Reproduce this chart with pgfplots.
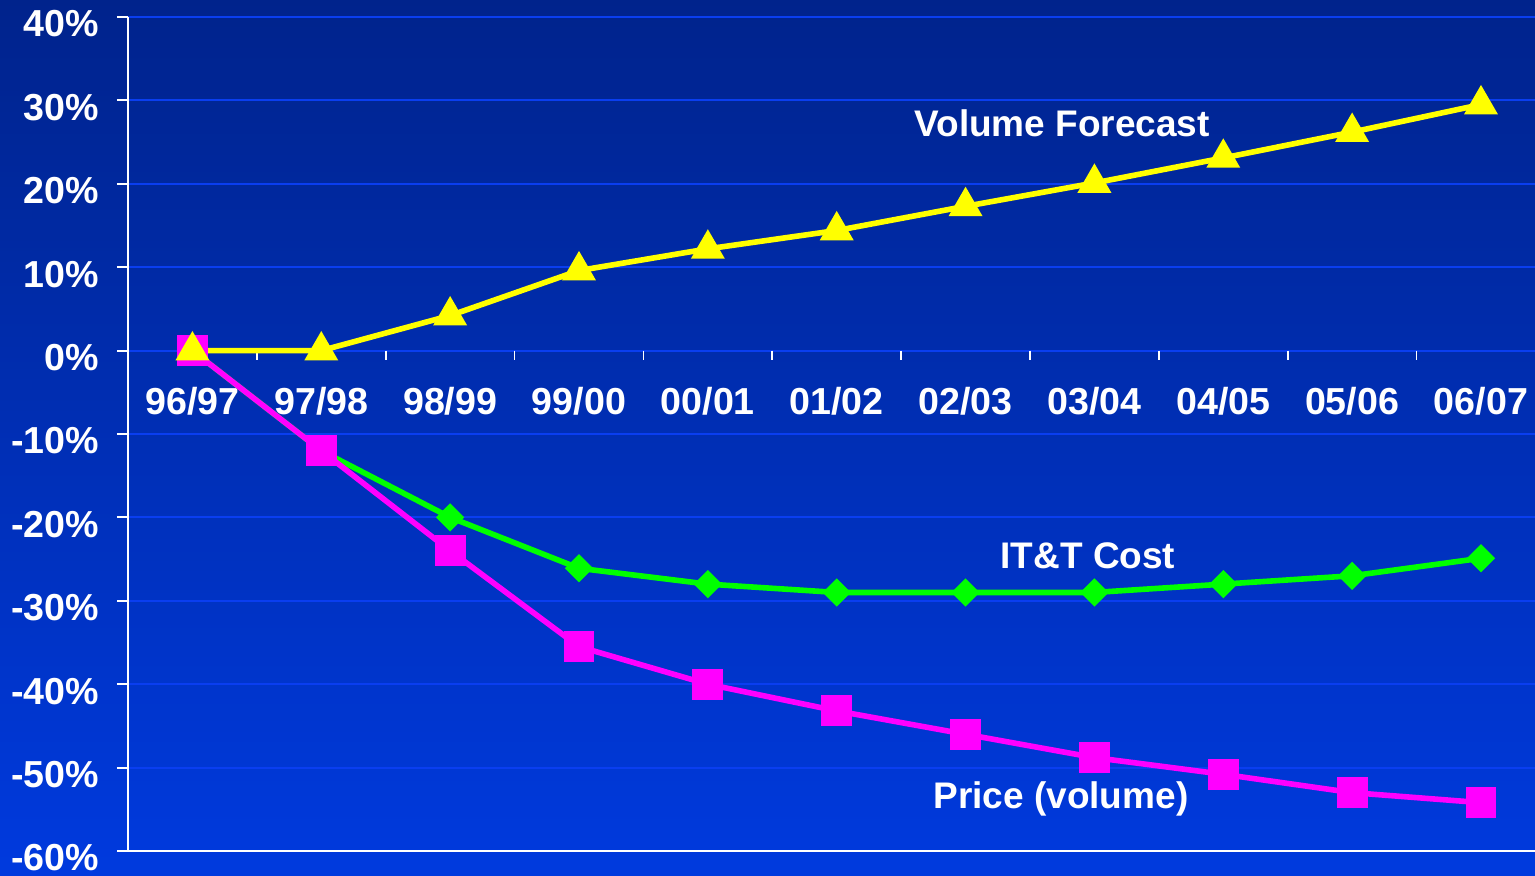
\documentclass[border=0pt]{standalone}
\usepackage{pgfplots}
\pgfplotsset{compat=1.18}
\usepackage{fontspec}
\setmainfont{Liberation Sans}
\definecolor{bgtop}{RGB}{0,35,140}
\definecolor{bgbot}{RGB}{0,58,222}
\definecolor{gridc}{RGB}{10,62,240}
\definecolor{cyel}{RGB}{255,255,0}
\definecolor{cmag}{RGB}{255,0,255}
\definecolor{cgrn}{RGB}{0,255,0}
\begin{document}
\begin{tikzpicture}
\shade[top color=bgtop, bottom color=bgbot] (0pt,0pt) rectangle (767.5pt,437.5pt);
\begin{axis}[
  at={(64pt,12pt)}, anchor=south west,
  scale only axis, width=708.7pt, height=417pt,
  xmin=-0.5, xmax=10.5, ymin=-60, ymax=40,
  axis lines=left,
  axis line style={white, line width=1pt, -},
  ytick={-60,-50,...,40},
  yticklabels={-60\%,-50\%,-40\%,-30\%,-20\%,-10\%,0\%,10\%,20\%,30\%,40\%},
  xtick={0,...,10},
  xticklabels={96/97,97/98,98/99,99/00,00/01,01/02,02/03,03/04,04/05,05/06,06/07},
  tick align=outside,
  major tick length=5.5pt,
  ytick style={white, line width=1pt},
  xtick style={draw=none},
  tick label style={white, font=\fontsize{18.8}{22}\selectfont\bfseries},
  x tick label style={anchor=center, yshift=230.5pt},
  y tick label style={anchor=east, xshift=-5.5pt, yshift=-3.5pt},
  ymajorgrids,
  grid style={gridc, line width=1pt},
  clip=false,
]
\pgfplotsinvokeforeach{0.5,1.5,2.5,3.5,4.5,5.5,6.5,7.5,8.5,9.5}{
  \draw[white, line width=0.9pt] (axis cs:#1,0) -- ([yshift=-4.5pt]axis cs:#1,0);
}
% IT&T Cost
\addplot[cgrn, line width=2.8pt, mark=square*, mark size=3.6pt, mark options={rotate=45, solid}] coordinates {
(0,0) (1,-12) (2,-20) (3,-26.1) (4,-28) (5,-29) (6,-29) (7,-29) (8,-28) (9,-27) (10,-24.9)
};
% Price (volume)
\addplot[cmag, line width=2.8pt, mark=square*, mark size=6.3pt] coordinates {
(0,0) (1,-12) (2,-24) (3,-35.5) (4,-40) (5,-43.2) (6,-46) (7,-48.8) (8,-50.8) (9,-53) (10,-54.2)
};
% Volume Forecast
\addplot[cyel, line width=2.8pt, mark=triangle*, mark size=7pt] coordinates {
(0,0) (1,0) (2,4.2) (3,9.6) (4,12.2) (5,14.4) (6,17.3) (7,20.1) (8,23.1) (9,26.2) (10,29.5)
};
\node[white, font=\fontsize{18.5}{22}\selectfont\bfseries] at (axis cs:6.75,27.3) {Volume Forecast};
\node[white, font=\fontsize{18.5}{22}\selectfont\bfseries] at (axis cs:6.95,-24.6) {IT\&T Cost};
\node[white, font=\fontsize{18.5}{22}\selectfont\bfseries] at (axis cs:6.74,-53.8) {Price (volume)};
\end{axis}
\pgfresetboundingbox
\path (0pt,0pt) rectangle (767.5pt,437.5pt);
\end{tikzpicture}
\end{document}
